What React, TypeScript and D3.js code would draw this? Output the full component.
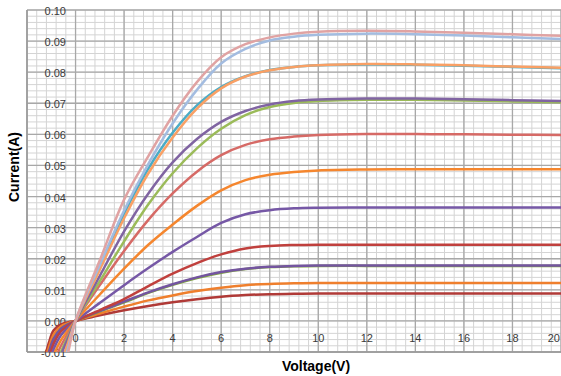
import * as d3 from 'd3';

// voltage grid shared by every series (V)
const VOLTAGES = [-1.3, -1.1, -0.9, -0.6, -0.3, 0, 1, 2, 3, 4, 5, 6, 7, 8, 9, 10, 12, 14, 16, 18, 20];

// current readings (A), one array per curve, bottom to top
const I_DARKRED_LOW = [-0.013, -0.007, -0.003, -0.0011, -0.0004, 0, 0.0018, 0.0034, 0.0048, 0.006, 0.007, 0.0078, 0.0083, 0.0086, 0.0087, 0.0088, 0.0088, 0.0088, 0.0088, 0.0088, 0.0088];
const I_ORANGE_LOW = [-0.014, -0.0085, -0.0043, -0.0017, -0.0007, 0, 0.0024, 0.0046, 0.0066, 0.0082, 0.0096, 0.0107, 0.0115, 0.0119, 0.0121, 0.0122, 0.0122, 0.0122, 0.0122, 0.0122, 0.0122];
const I_GREEN_LOW = [-0.015, -0.0105, -0.006, -0.0026, -0.0011, 0, 0.0031, 0.006, 0.009, 0.0116, 0.0138, 0.0155, 0.0167, 0.0173, 0.0176, 0.0177, 0.0177, 0.0177, 0.0177, 0.0177, 0.0177];
const I_PURPLE_LOW = [-0.015, -0.01, -0.0057, -0.0025, -0.0011, 0, 0.0032, 0.0062, 0.0092, 0.0118, 0.014, 0.0157, 0.0168, 0.0174, 0.0177, 0.0178, 0.0178, 0.0178, 0.0178, 0.0178, 0.0178];
const I_RED_MID = [-0.016, -0.012, -0.0073, -0.0034, -0.0015, 0, 0.0035, 0.007, 0.0112, 0.0152, 0.0186, 0.0214, 0.0233, 0.0241, 0.0244, 0.0245, 0.0245, 0.0245, 0.0245, 0.0245, 0.0245];
const I_PURPLE_MID = [-0.018, -0.0135, -0.009, -0.0046, -0.0021, 0, 0.0058, 0.0115, 0.017, 0.0222, 0.027, 0.0315, 0.0343, 0.0356, 0.0362, 0.0364, 0.0365, 0.0365, 0.0365, 0.0365, 0.0365];
const I_ORANGE_MID = [-0.021, -0.0155, -0.011, -0.0062, -0.0029, 0, 0.0085, 0.0168, 0.0245, 0.031, 0.037, 0.042, 0.0453, 0.047, 0.0479, 0.0484, 0.0487, 0.0488, 0.0488, 0.0488, 0.0488];
const I_SALMON = [-0.025, -0.019, -0.0135, -0.008, -0.0039, 0, 0.0115, 0.0225, 0.0325, 0.041, 0.048, 0.0533, 0.0566, 0.0584, 0.0593, 0.0598, 0.0601, 0.0601, 0.06, 0.0599, 0.0598];
const I_GREEN_HIGH = [-0.028, -0.022, -0.016, -0.01, -0.0049, 0, 0.0128, 0.0256, 0.0375, 0.0475, 0.0555, 0.0618, 0.0662, 0.0688, 0.0701, 0.0707, 0.0711, 0.0711, 0.0709, 0.0706, 0.0703];
const I_PURPLE_HIGH = [-0.03, -0.024, -0.018, -0.011, -0.0054, 0, 0.0145, 0.0288, 0.041, 0.051, 0.0585, 0.064, 0.0675, 0.0696, 0.0707, 0.0712, 0.0715, 0.0715, 0.0713, 0.071, 0.0707];
const I_CYAN = [-0.036, -0.03, -0.024, -0.015, -0.0072, 0, 0.0175, 0.0345, 0.049, 0.0605, 0.0693, 0.0752, 0.0787, 0.0807, 0.0817, 0.0822, 0.0825, 0.0824, 0.0821, 0.0817, 0.0813];
const I_ORANGE_HIGH = [-0.034, -0.028, -0.022, -0.014, -0.0068, 0, 0.0165, 0.033, 0.0475, 0.059, 0.0683, 0.0748, 0.0786, 0.0806, 0.0817, 0.0822, 0.0826, 0.0825, 0.0822, 0.0818, 0.0814];
const I_LIGHTBLUE = [-0.04, -0.034, -0.027, -0.017, -0.0085, 0, 0.018, 0.0355, 0.0505, 0.0635, 0.0743, 0.0828, 0.0875, 0.0902, 0.0914, 0.092, 0.0924, 0.0922, 0.0918, 0.0912, 0.0907];
const I_PINK = [-0.045, -0.038, -0.031, -0.02, -0.01, 0, 0.0195, 0.039, 0.053, 0.066, 0.0768, 0.0848, 0.089, 0.0912, 0.0924, 0.093, 0.0933, 0.0931, 0.0927, 0.0922, 0.0917];

const SERIES: { values: number[]; color: string }[] = [
  { values: I_DARKRED_LOW, color: '#b03a37' },
  { values: I_ORANGE_LOW, color: '#ef7f2d' },
  { values: I_GREEN_LOW, color: '#7fa63e' },
  { values: I_PURPLE_LOW, color: '#7455a0' },
  { values: I_RED_MID, color: '#c0403d' },
  { values: I_PURPLE_MID, color: '#7658a6' },
  { values: I_ORANGE_MID, color: '#f5862e' },
  { values: I_SALMON, color: '#d66a66' },
  { values: I_GREEN_HIGH, color: '#9bbb59' },
  { values: I_PURPLE_HIGH, color: '#8064a2' },
  { values: I_CYAN, color: '#4bacc6' },
  { values: I_ORANGE_HIGH, color: '#f9a065' },
  { values: I_LIGHTBLUE, color: '#a3bce0' },
  { values: I_PINK, color: '#e0a3a3' },
];

const X_TICKS = [0, 2, 4, 6, 8, 10, 12, 14, 16, 18, 20];
const Y_TICKS = [-0.01, 0, 0.01, 0.02, 0.03, 0.04, 0.05, 0.06, 0.07, 0.08, 0.09, 0.1];

export default function App() {
  const W = 561;
  const H = 376;
  const plot = { left: 27, right: 561, top: 10, bottom: 352 };

  const x = d3.scaleLinear().domain([-2, 20]).range([plot.left, plot.right]);
  const y = d3.scaleLinear().domain([-0.01, 0.1]).range([plot.bottom, plot.top]);

  const minorX = d3.range(-2, 20.001, 0.4);
  const minorY = d3.range(-0.01, 0.1001, 0.002);

  const line = d3.line<number>()
    .x((_, i) => x(VOLTAGES[i]))
    .y(d => y(d))
    .curve(d3.curveCatmullRom.alpha(0.5));

  const tickFont = "'Liberation Sans Narrow', 'Liberation Sans', Arial, sans-serif";

  return (
    <svg width={W} height={H} style={{ position: 'absolute', left: 0, top: 0, background: '#fff' }}>
      <defs>
        <clipPath id="plot-clip">
          <rect x={plot.left} y={plot.top} width={plot.right - plot.left} height={plot.bottom - plot.top} />
        </clipPath>
      </defs>

      {/* Minor grid */}
      {minorX.map(v => (
        <line key={`mx-${v}`} x1={x(v)} x2={x(v)} y1={plot.top} y2={plot.bottom} stroke="#d4d4d4" strokeWidth={1} />
      ))}
      {minorY.map(v => (
        <line key={`my-${v}`} x1={plot.left} x2={plot.right} y1={y(v)} y2={y(v)} stroke="#d4d4d4" strokeWidth={1} />
      ))}

      {/* Major grid */}
      {d3.range(-2, 20.001, 2).map(v => (
        <line key={`gx-${v}`} x1={x(v)} x2={x(v)} y1={plot.top} y2={plot.bottom} stroke="#a8a8a8" strokeWidth={1.3} />
      ))}
      {Y_TICKS.map(v => (
        <line key={`gy-${v}`} x1={plot.left} x2={plot.right} y1={y(v)} y2={y(v)} stroke="#a8a8a8" strokeWidth={1.3} />
      ))}

      {/* Plot border */}
      <line x1={plot.left} x2={plot.left} y1={plot.top} y2={plot.bottom} stroke="#999" strokeWidth={1.5} />
      <line x1={plot.left} x2={plot.right} y1={plot.bottom} y2={plot.bottom} stroke="#999" strokeWidth={1.5} />

      {/* Y tick labels (inside the plot) */}
      {Y_TICKS.map(v => (
        <text
          key={`yl-${v}`} x={66} y={y(v) + 1}
          textAnchor="end" dominantBaseline="central"
          fontSize={11} fontFamily={tickFont} fill="#3a3a3a"
        >
          {v.toFixed(2)}
        </text>
      ))}

      {/* X tick labels; the last one is pulled in so it stays inside the frame */}
      {X_TICKS.map(v => (
        <text
          key={`xl-${v}`} x={v === 20 ? x(v) - 1 : x(v)} y={338}
          textAnchor={v === 20 ? 'end' : 'middle'} dominantBaseline="central"
          fontSize={11} fontFamily={tickFont} fill="#3a3a3a"
        >
          {v}
        </text>
      ))}

      {/* Curves */}
      <g clipPath="url(#plot-clip)">
        {SERIES.map((s, i) => (
          <path
            key={i}
            d={line(s.values) ?? ''}
            fill="none"
            stroke={s.color}
            strokeWidth={2.5}
            strokeLinejoin="round"
          />
        ))}
      </g>

      {/* Axis titles */}
      <text
        x={316} y={366}
        textAnchor="middle" dominantBaseline="central"
        fontSize={14} fontWeight={700}
        fontFamily="'Liberation Sans', Arial, sans-serif" fill="#000"
      >
        Voltage(V)
      </text>
      <text
        transform="translate(14,167) rotate(-90)"
        textAnchor="middle" dominantBaseline="central"
        fontSize={14} fontWeight={700}
        fontFamily="'Liberation Sans', Arial, sans-serif" fill="#000"
      >
        Current(A)
      </text>
    </svg>
  );
}
